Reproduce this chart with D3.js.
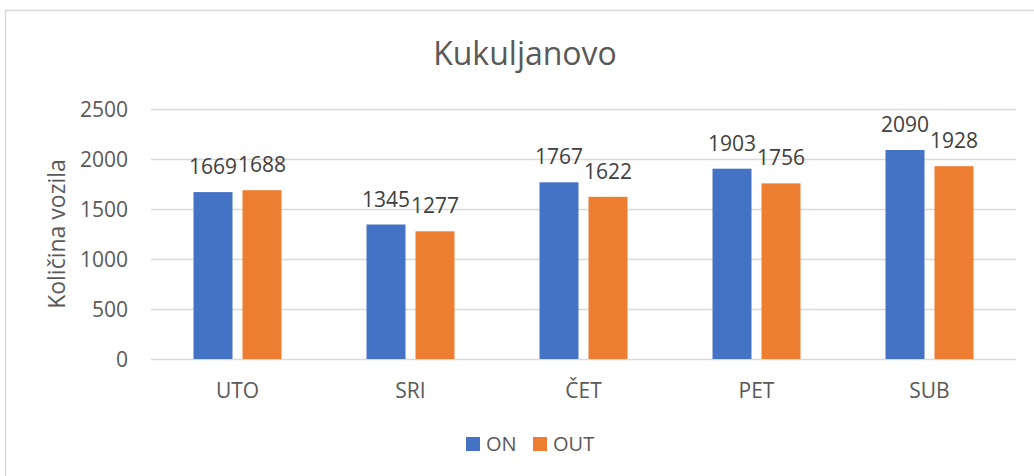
<!DOCTYPE html>
<html>
<head>
<meta charset="utf-8">
<script src="https://cdn.jsdelivr.net/npm/d3@7"></script>
<style>
  body { margin: 0; background: #fff; }
  text { font-family: "Open Sans", sans-serif; fill: #595959; }
</style>
</head>
<body>
<div id="chart"></div>
<script>
// data
const days = ['UTO', 'SRI', 'ČET', 'PET', 'SUB']
const series = ['ON', 'OUT']
const onVals = [1669, 1345, 1767, 1903, 2090]
const outVals = [1688, 1277, 1622, 1756, 1928]
const yTicks = [0, 500, 1000, 1500, 2000, 2500]
const colors = ['#4472C4', '#ED7D31']

const W = 1034, H = 476
const plot = { left: 151, right: 1016, top: 109, bottom: 359 }

const svg = d3.select('#chart').append('svg')
  .attr('width', W)
  .attr('height', H)

// chart border
svg.append('rect')
  .attr('x', 5.5).attr('y', 10.5)
  .attr('width', W + 10).attr('height', H + 10)
  .attr('fill', 'none')
  .attr('stroke', '#d9d9d9')
  .attr('stroke-width', 1.5)

const x = d3.scaleBand().domain(days).range([plot.left, plot.right])
const groupW = 88
const xs = d3.scaleBand().domain(series).range([0, groupW]).paddingInner(10 / 49)
const y = d3.scaleLinear().domain([0, 2500]).range([plot.bottom, plot.top])

// gridlines
svg.append('g').selectAll('line')
  .data(yTicks)
  .join('line')
  .attr('x1', plot.left).attr('x2', plot.right)
  .attr('y1', d => y(d) + 0.5).attr('y2', d => y(d) + 0.5)
  .attr('stroke', '#d9d9d9')
  .attr('stroke-width', 1.5)

// y tick labels
svg.append('g').selectAll('text')
  .data(yTicks)
  .join('text')
  .attr('x', 128)
  .attr('y', d => y(d))
  .attr('dy', '0.36em')
  .attr('text-anchor', 'end')
  .style('font-size', '21px')
  .text(d => d)

// bars + labels
const rows = days.map((d, i) => ({ day: d, vals: [onVals[i], outVals[i]] }))
const grp = svg.append('g').selectAll('g')
  .data(rows)
  .join('g')
  .attr('transform', d => `translate(${x(d.day) + (x.bandwidth() - groupW) / 2},0)`)

grp.selectAll('rect')
  .data(d => d.vals.map((v, j) => ({ s: series[j], v, j })))
  .join('rect')
  .attr('x', d => xs(d.s))
  .attr('width', xs.bandwidth())
  .attr('y', d => y(d.v))
  .attr('height', d => y(0) - y(d.v))
  .attr('fill', d => colors[d.j])

grp.selectAll('text')
  .data(d => d.vals.map((v, j) => ({ s: series[j], v })))
  .join('text')
  .attr('x', d => xs(d.s) + xs.bandwidth() / 2)
  .attr('y', d => y(d.v) - 18)
  .attr('text-anchor', 'middle')
  .style('font-size', '21px')
  .style('fill', '#404040')
  .text(d => d.v)

// category labels
svg.append('g').selectAll('text')
  .data(days)
  .join('text')
  .attr('x', d => x(d) + x.bandwidth() / 2)
  .attr('y', 398)
  .attr('text-anchor', 'middle')
  .style('font-size', '21px')
  .text(d => d)

// title
svg.append('text')
  .attr('x', 525).attr('y', 65)
  .attr('text-anchor', 'middle')
  .style('font-size', '32px')
  .text('Kukuljanovo')

// y axis title
svg.append('text')
  .attr('transform', 'translate(65,234) rotate(-90)')
  .attr('text-anchor', 'middle')
  .style('font-size', '23px')
  .text('Količina vozila')

// legend
const legend = svg.append('g')
const legX = [466, 533]
series.forEach((s, i) => {
  legend.append('rect')
    .attr('x', legX[i]).attr('y', 437)
    .attr('width', 14).attr('height', 14)
    .attr('fill', colors[i])
  legend.append('text')
    .attr('x', legX[i] + 20).attr('y', 451)
    .style('font-size', '20px')
    .text(s)
})
</script>
</body>
</html>
